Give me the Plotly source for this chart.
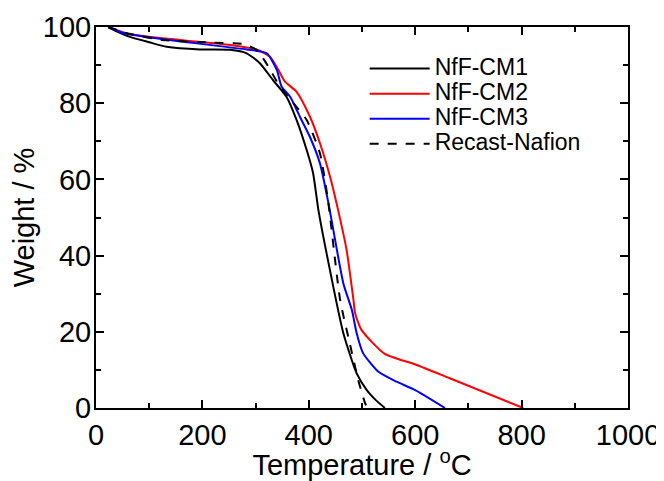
import plotly.graph_objects as go

# NfF-CM1 (black solid)
t_cm1 = [23, 40, 64, 100, 133, 195, 252, 283, 308, 333, 358, 377, 396, 408, 418, 436, 465, 490, 509, 525, 543]
w_cm1 = [100, 98.8, 97.4, 96.0, 94.8, 94.1, 94.0, 93.1, 90.5, 86.0, 81.7, 75.6, 67.7, 61.7, 52.0, 38.8, 19.6, 9.1, 4.7, 2.2, 0]

# NfF-CM2 (red)
t_cm2 = [23, 64, 158, 252, 302, 327, 343, 355, 377, 402, 421, 440, 455, 471, 484, 487, 499, 543, 603, 665, 803]
w_cm2 = [100, 98.1, 96.6, 95.3, 94.1, 92.2, 88.7, 85.7, 83.0, 76.5, 69.5, 60.7, 52.0, 41.5, 28.3, 24.9, 20.5, 14.2, 11.3, 7.8, 0]

# NfF-CM3 (blue)
t_cm3 = [23, 50, 95, 189, 283, 321, 340, 349, 365, 383, 402, 421, 437, 465, 481, 490, 502, 531, 565, 600, 656]
w_cm3 = [100, 98.5, 97.4, 95.7, 94.1, 93.1, 88.7, 84.3, 81.7, 76.5, 71.2, 64.2, 53.7, 32.7, 25.7, 19.6, 14.4, 9.5, 6.9, 4.7, 0]

# Recast-Nafion (black dashed)
t_rn = [23, 60, 126, 220, 277, 302, 320, 346, 371, 396, 421, 436, 459, 477, 493, 506, 510]
w_rn = [100, 98.3, 96.6, 95.9, 95.5, 94.0, 90.5, 84.3, 80.0, 75.6, 66.8, 54.6, 28.3, 17.0, 7.3, 1.2, 0]

x_ticks = [0, 200, 400, 600, 800, 1000]
y_ticks = [0, 20, 40, 60, 80, 100]

series = [
    ("NfF-CM1", t_cm1, w_cm1, "black", "solid"),
    ("NfF-CM2", t_cm2, w_cm2, "red", "solid"),
    ("NfF-CM3", t_cm3, w_cm3, "blue", "solid"),
    ("Recast-Nafion", t_rn, w_rn, "black", "dash"),
]

FONT = "Liberation Sans, Arial, sans-serif"

fig = go.Figure()
for name, t, w, c, d in series:
    fig.add_trace(go.Scatter(x=t, y=w, mode="lines",
                             name="<span style='font-size:23px'>%s</span>" % name,
                             line=dict(color=c, width=2, dash=d, shape="spline", smoothing=0.6)))

axis_common = dict(showline=True, linecolor="black", linewidth=2, mirror="allticks",
                   ticks="inside", ticklen=8, tickwidth=1.5, tickcolor="black",
                   showgrid=False, zeroline=False, automargin=False,
                   tickfont=dict(family=FONT, size=29, color="black"))

fig.update_xaxes(range=[0, 1000], tickvals=x_ticks,
                 minor=dict(dtick=100, ticks="inside", ticklen=5, tickwidth=1.5, tickcolor="black"),
                 title=dict(text="Temperature / <sup>o</sup>C", standoff=2,
                            font=dict(family=FONT, size=29, color="black")),
                 **axis_common)
fig.update_yaxes(range=[0, 100], tickvals=y_ticks, ticklabelstandoff=-3,
                 minor=dict(dtick=10, ticks="inside", ticklen=5, tickwidth=1.5, tickcolor="black"),
                 title=dict(text="Weight / %", standoff=0,
                            font=dict(family=FONT, size=29, color="black")),
                 **axis_common)

# page body has an 8px margin, so the figure is sized to the remaining window
fig.update_layout(
    width=656, height=473,
    margin=dict(l=88, r=36, t=19, b=73),
    paper_bgcolor="white", plot_bgcolor="white",
    legend=dict(x=0.505, y=0.937, xanchor="left", yanchor="top",
                bgcolor="rgba(0,0,0,0)", tracegroupgap=0, itemwidth=60,
                font=dict(family=FONT, size=17, color="black")),
)

fig.write_html("out.html")
